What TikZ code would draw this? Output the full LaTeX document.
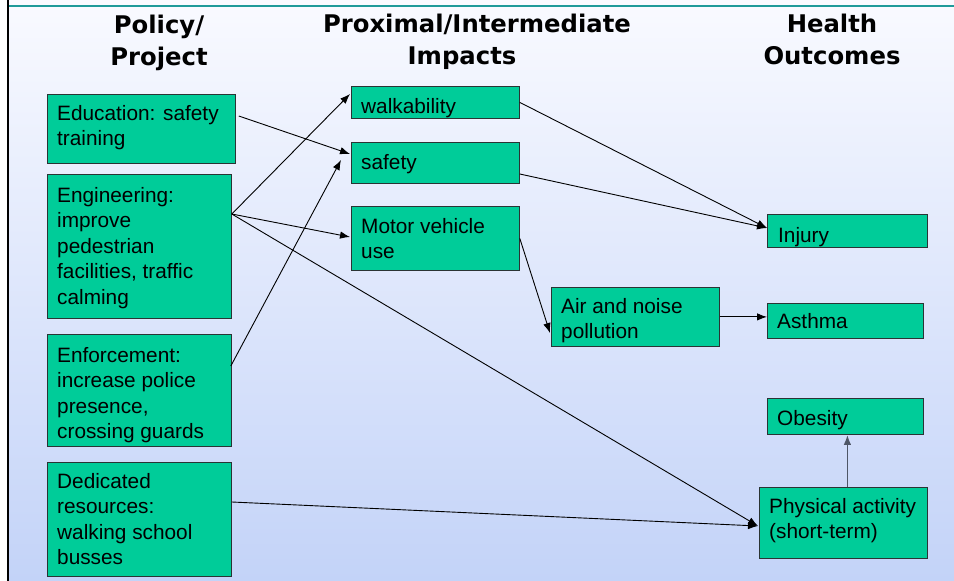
\documentclass[tikz,border=0pt]{standalone}
\usepackage{fontspec}
\setmainfont{Liberation Sans}
\newfontfamily\hdfont{DejaVu Sans}
\usetikzlibrary{calc,arrows.meta}
\definecolor{boxgreen}{HTML}{00CC99}
\definecolor{boxedge}{HTML}{2A3434}
\definecolor{topline}{HTML}{1F9A9A}
\definecolor{bgtop}{HTML}{F9FAFF}
\definecolor{bgbot}{HTML}{C3D3F8}
\definecolor{grayarrow}{HTML}{4E5666}
\begin{document}
\begin{tikzpicture}[x=1pt,y=-1pt,
  box/.style={draw=boxedge, line width=0.8pt, fill=boxgreen, inner sep=0pt, anchor=north west},
  txt/.style={inner sep=0pt, align=left, font=\fontsize{20.8}{25.5}\selectfont, anchor=base west},
  hd/.style={inner sep=0pt, align=center, font=\hdfont\bfseries\fontsize{24.3}{31.5}\selectfont, anchor=base},
  arr/.style={-{Latex[length=10pt,width=7.5pt]}, line width=0.9pt, black}]
\useasboundingbox (0,0) rectangle (954,581);
% background
\fill[white] (0,0) rectangle (954,581);
\shade[top color=bgtop, bottom color=bgbot] (9,0) rectangle (954,581);
\draw[topline, line width=2.2pt] (9,6) -- (954,6);
\draw[black, line width=2.4pt] (8,0) -- (8,581);
% headers (anchor base = baseline of the last line)
\node[hd] (h1) at (159,65) {Policy/\\Project};
\node[hd] (h2) at (477,64) {Proximal/Intermediate\\Impacts\hspace*{30pt}};
\node[hd] (h3) at (832,64) {Health\\Outcomes};
% boxes
\node[box, minimum width=188pt, minimum height=69pt] (edu) at (47,94) {};
\node[box, minimum width=184pt, minimum height=144pt] (eng) at (47,174) {};
\node[box, minimum width=184pt, minimum height=112pt] (enf) at (47,334) {};
\node[box, minimum width=184pt, minimum height=114pt] (ded) at (47,462) {};
\node[box, minimum width=168pt, minimum height=32pt] (walk) at (351,86) {};
\node[box, minimum width=168pt, minimum height=41pt] (safe) at (351,142) {};
\node[box, minimum width=168pt, minimum height=64pt] (motor) at (351,206) {};
\node[box, minimum width=168pt, minimum height=59pt] (air) at (551,287) {};
\node[box, minimum width=160pt, minimum height=33pt] (inj) at (767,214) {};
\node[box, minimum width=156pt, minimum height=35pt] (asth) at (767,303) {};
\node[box, minimum width=156pt, minimum height=36pt] (obes) at (767,398) {};
\node[box, minimum width=168pt, minimum height=71pt] (phys) at (759,487) {};
% texts (anchor base west = baseline of the last line)
\node[txt] (edu-t) at ($(edu.north west)+(10,51.5)$) {Education: safety\\training};
\node[txt] (eng-t) at ($(eng.north west)+(10,130)$) {Engineering:\\improve\\pedestrian\\facilities, traffic\\calming};
\node[txt] (enf-t) at ($(enf.north west)+(10,104.5)$) {Enforcement:\\increase police\\presence,\\crossing guards};
\node[txt] (ded-t) at ($(ded.north west)+(10,102.5)$) {Dedicated\\resources:\\walking school\\busses};
\node[txt] (walk-t) at ($(walk.north west)+(10,27)$) {walkability};
\node[txt] (safe-t) at ($(safe.north west)+(10,27)$) {safety};
\node[txt] (motor-t) at ($(motor.north west)+(10,52.5)$) {Motor vehicle\\use};
\node[txt] (air-t) at ($(air.north west)+(10,51.5)$) {Air and noise\\pollution};
\node[txt] (inj-t) at ($(inj.north west)+(11,28)$) {Injury};
\node[txt] (asth-t) at ($(asth.north west)+(10,25)$) {Asthma};
\node[txt] (obes-t) at ($(obes.north west)+(10,27)$) {Obesity};
\node[txt] (phys-t) at ($(phys.north west)+(10,51.5)$) {Physical activity\\(short-term)};
% connectors
\draw[arr] ($(edu.north east)+(3,22)$) -- ($(safe.north west)+(-1,12)$);
\draw[arr] ($(eng.north east)+(0,40)$) -- ($(walk.north west)+(-1,8)$);
\draw[arr] ($(eng.north east)+(0,40)$) -- ($(motor.north west)+(-1,31)$);
\draw[arr] ($(eng.north east)+(0,40)$) -- ($(phys.north west)+(-1,39)$);
\draw[arr] ($(enf.north east)+(-1,32)$) -- ($(safe.north west)+(-10,18)$);
\draw[arr] ($(ded.north east)+(0,40)$) -- ($(phys.north west)+(-1,39)$);
\draw[arr] (walk.east) -- ($(inj.north west)+(0,14)$);
\draw[arr] ($(safe.north east)+(0,32)$) -- ($(inj.north west)+(0,14)$);
\draw[arr] (motor.east) -- ($(air.north west)+(-1,46)$);
\draw[arr] (air.east) -- (air.east -| asth.west);
\draw[arr, draw=grayarrow, line width=1.6pt] ($(phys.north)+(4,0)$) -- ($(obes.south)+(2,0)$);
\end{tikzpicture}
\end{document}
